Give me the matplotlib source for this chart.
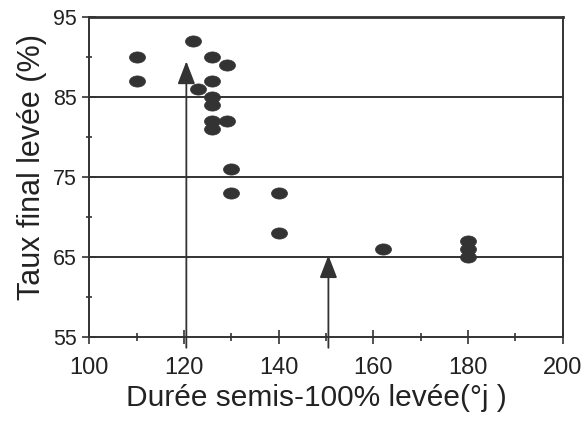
import numpy as np
import matplotlib
matplotlib.use("Agg")
import matplotlib.pyplot as plt
from matplotlib.path import Path

plt.rcParams['font.family'] = ['Liberation Sans', 'DejaVu Sans']

# durée semis-100% levée (°j) et taux final de levée (%)
duree = [110, 110, 122, 126, 129, 126, 123, 126, 126, 126, 126, 129,
         130, 130, 140, 140, 162, 180, 180, 180]
taux = [90, 87, 92, 90, 89, 87, 86, 85, 84, 82, 81, 82,
        76, 73, 73, 68, 66, 67, 66, 65]

# flèches (seuils)
fleches_x = [120.5, 150.5]
fleches_y = [89.5, 65.2]

grid_y = [65, 75, 85]
col = "#333333"

# marqueur en ellipse (plus large que haut)
t = np.linspace(0, 2 * np.pi, 40)
ell = Path(np.column_stack([np.cos(t), 0.7 * np.sin(t)]), closed=True)

fig = plt.figure(figsize=(5.82, 4.25), dpi=100)
ax = fig.add_axes([0.1534, 0.208, 0.8136, 0.751])

for g in grid_y:
    ax.axhline(g, color=col, lw=1.4, zorder=1)

ax.plot(duree, taux, linestyle="none", marker=ell, markersize=11.5,
        markeredgewidth=0.5, color=col, zorder=3)

# les flèches partent un peu sous l'axe x
for fx, fy in zip(fleches_x, fleches_y):
    ax.annotate("", xy=(fx, fy), xytext=(fx, 53.6), annotation_clip=False,
                arrowprops=dict(arrowstyle="-|>,head_length=0.7,head_width=0.27",
                                mutation_scale=20, color=col, lw=1.3,
                                shrinkA=0, shrinkB=0),
                zorder=2)

ax.set_xlim(100, 200)
ax.set_ylim(55, 95)
ax.set_xticks([100, 120, 140, 160, 180, 200])
ax.set_xticks(np.arange(110, 200, 10), minor=True)
ax.set_yticks([55, 65, 75, 85, 95])
ax.set_yticks([60, 70, 80, 90], minor=True)

for s in ax.spines.values():
    s.set_color(col)
    s.set_linewidth(1.4)
ax.spines["top"].set_linewidth(2)

ax.tick_params(which="both", direction="inout", width=1.2, colors=col,
               labelcolor="#222222")
ax.tick_params(axis="x", which="major", length=10, pad=10, labelsize=17)
ax.tick_params(axis="x", which="minor", length=6)
ax.tick_params(axis="y", which="major", length=10, pad=4, labelsize=15.5)
ax.tick_params(axis="y", which="minor", length=5)

ax.set_xlabel("Durée semis-100% levée(°j )", fontsize=21.5, color="#222222",
              labelpad=3, x=0.479)
ax.set_ylabel("Taux final levée (%)", fontsize=22, color="#222222", labelpad=4,
              y=0.53)

fig.savefig("out.png", dpi=100)
